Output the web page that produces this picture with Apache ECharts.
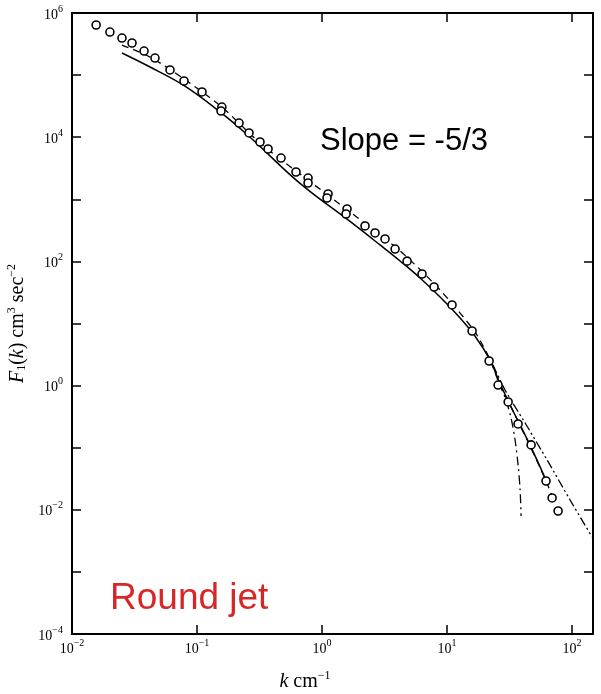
<!DOCTYPE html>
<html>
<head>
<meta charset="utf-8">
<script src="https://cdn.jsdelivr.net/npm/echarts@6/dist/echarts.min.js"></script>
<style>html,body{margin:0;padding:0;background:#fff}#c{width:601px;height:694px}</style>
</head>
<body>
<div id="c"></div>
<script>
// ---- data ----
var circleK = [0.0156,0.0201,0.0251,0.0302,0.0377,0.0461,0.0608,0.0787,0.1096,0.158,0.1556,0.2168,0.2606,0.319,0.370,0.470,0.619,0.773,0.773,1.117,1.096,1.585,1.556,2.208,2.655,3.19,3.84,4.79,6.31,7.87,10.96,15.85,21.7,25.6,30.8,37.0,47.0,61.9,69.2,77.3];
var circleF = [6.41e5,4.94e5,3.95e5,3.29e5,2.44e5,1.88e5,1.21e5,8.03e4,5.35e4,3.06e4,2.64e4,1.69e4,1.17e4,8370,6460,4620,2750,2200,1830,1220,1050,698,580,372,287,230,158,101,62.7,38.7,19.9,7.57,2.49,1.02,0.545,0.241,0.111,0.0291,0.0155,0.00957];

var solidK = [0.0251,0.0421,0.0773,0.1528,0.2655,0.667,1.675,2.91,4.21,6.08,8.79,12.7,16.7,22.1,25.6,30.8,46.1,60.8];
var solidF = [2.27e5,1.35e5,6.93e4,2.55e4,1.0e4,1800,440,184,101.4,54.1,26.7,12.3,6.30,2.58,1.28,0.565,0.110,0.0325];

var dashK = [0.0251,0.0421,0.0787,0.158,0.319,0.667,1.675,4.21,8.79,16.1,19.05,22.1,26.5,31.9,46.1,61.9,69.2];
var dashF = [3.05e5,1.95e5,8.65e4,3.06e4,8070,2550,624,147,34.6,8.15,4.68,2.58,1.02,0.488,0.106,0.0291,0.0167];

var dashDotK = [23.3,26.5,29.6,32.5,35.0,37.0,38.4,39.1];
var dashDotF = [2.15,1.02,0.586,0.301,0.133,0.0526,0.0208,0.00794];

var dashDotDotK = [23.3,29.1,42.1,63.1,96.4,144.5];
var dashDotDotF = [2.15,0.849,0.250,0.0634,0.0144,0.00365];

var xMin = 0.01, xMax = 147;
var yMin = 1e-4, yMax = 1e6;

var titleText = 'Slope = -5/3';
var noteText = 'Round jet';

function pairs(a, b) { return a.map(function (v, i) { return [v, b[i]]; }); }

var serif = 'Liberation Serif';
var richPow = {
  b: { fontFamily: serif, fontSize: 14, color: '#000', lineHeight: 18, verticalAlign: 'bottom' },
  s: { fontFamily: serif, fontSize: 10, color: '#000', lineHeight: 10, verticalAlign: 'top' }
};
function powLabel(v, onlyEven) {
  var e = Math.log10(v);
  var r = Math.round(e);
  if (Math.abs(e - r) > 0.01) return '';
  if (onlyEven && (r % 2 !== 0)) return '';
  return '{b|10}{s|' + (r < 0 ? '\u2212' + (-r) : r) + '}';
}
var nameRich = {
  i: { fontFamily: serif, fontStyle: 'italic', fontSize: 20, color: '#000', lineHeight: 22, verticalAlign: 'bottom' },
  n: { fontFamily: serif, fontSize: 20, color: '#000', lineHeight: 22, verticalAlign: 'bottom' },
  s: { fontFamily: serif, fontSize: 12, color: '#000', lineHeight: 12, verticalAlign: 'top' },
  d: { fontFamily: serif, fontSize: 12, color: '#000', lineHeight: 12, verticalAlign: 'bottom' }
};

var axisLineStyle = { color: '#000', width: 2 };
var tickStyle = { show: true, inside: true, length: 9, lineStyle: { color: '#000', width: 1.5 } };

var chart = echarts.init(document.getElementById('c'), null, { renderer: 'canvas' });
chart.setOption({
  animation: false,
  backgroundColor: '#fff',
  grid: { left: 72, right: 8, top: 13, bottom: 60, containLabel: false, outerBoundsMode: 'none' },
  xAxis: [{
    type: 'log', logBase: 10, min: xMin, max: xMax, interval: 1,
    position: 'bottom',
    axisLine: { show: true, lineStyle: axisLineStyle },
    axisTick: tickStyle,
    splitLine: { show: false },
    minorTick: { show: false },
    axisLabel: { margin: 4, formatter: function (v) { return powLabel(v, false); }, rich: richPow, showMaxLabel: false },
    name: '{i|k}{n| cm}{s|\u22121}',
    nameLocation: 'middle', nameGap: 36,
    nameTextStyle: { rich: nameRich, padding: [0, 55, 0, 0] }
  }, {
    type: 'log', logBase: 10, min: xMin, max: xMax, interval: 1,
    position: 'top',
    axisLine: { show: true, lineStyle: axisLineStyle },
    axisTick: tickStyle,
    splitLine: { show: false },
    axisLabel: { show: false }
  }],
  yAxis: [{
    type: 'log', logBase: 10, min: yMin, max: yMax, interval: 1,
    position: 'left',
    axisLine: { show: true, lineStyle: axisLineStyle },
    axisTick: tickStyle,
    splitLine: { show: false },
    axisLabel: { margin: 9, formatter: function (v) { return powLabel(v, true); }, rich: richPow },
    name: '{i|F}{d|1}{n|(}{i|k}{n|) cm}{s|3}{n| sec}{s|\u22122}',
    nameLocation: 'middle', nameRotate: 90, nameGap: 43,
    nameTextStyle: { rich: nameRich }
  }, {
    type: 'log', logBase: 10, min: yMin, max: yMax, interval: 1,
    position: 'right',
    axisLine: { show: true, lineStyle: axisLineStyle },
    axisTick: tickStyle,
    splitLine: { show: false },
    axisLabel: { show: false }
  }],
  graphic: [{
    type: 'text', left: 320, top: 126,
    style: { text: titleText, font: '31px "Liberation Sans"', fill: '#000' }
  }, {
    type: 'text', left: 110, top: 580,
    style: { text: noteText, font: '37px "Liberation Sans"', fill: '#d62728' }
  }],
  series: [{
    type: 'line', name: 'solid', data: pairs(solidK, solidF), smooth: 0.4, symbol: 'none',
    lineStyle: { color: '#000', width: 1.5 }, z: 2
  }, {
    type: 'line', name: 'dashed', data: pairs(dashK, dashF), smooth: 0.3, symbol: 'none',
    lineStyle: { color: '#000', width: 1.3, type: [7, 5] }, z: 2
  }, {
    type: 'line', name: 'dashdot', data: pairs(dashDotK, dashDotF), smooth: 0.3, symbol: 'none',
    lineStyle: { color: '#000', width: 1.3, type: [9, 4, 2, 4] }, z: 2
  }, {
    type: 'line', name: 'dashdotdot', data: pairs(dashDotDotK, dashDotDotF), smooth: 0.3, symbol: 'none',
    lineStyle: { color: '#000', width: 1.3, type: [9, 3, 2, 3, 2, 3] }, z: 2
  }, {
    type: 'scatter', name: 'data', data: pairs(circleK, circleF),
    symbol: 'circle', symbolSize: 8,
    itemStyle: { color: '#fff', borderColor: '#000', borderWidth: 1.6, opacity: 1 }, z: 3
  }]
});
</script>
</body>
</html>
